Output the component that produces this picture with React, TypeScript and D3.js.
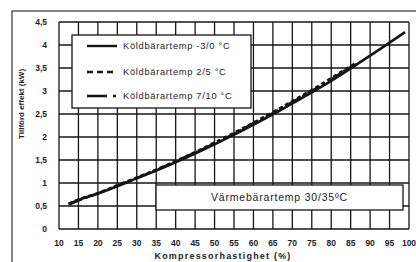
import * as d3 from 'd3';

const speedSolid = [12.5, 15, 20, 25, 30, 35, 40, 45, 50, 55, 60, 65, 70, 75, 80, 85, 90, 95, 99];
const powerSolid = [0.54, 0.63, 0.77, 0.93, 1.1, 1.27, 1.45, 1.64, 1.84, 2.05, 2.27, 2.49, 2.73, 2.97, 3.22, 3.49, 3.77, 4.05, 4.28];
const speedShort = [12.5, 15, 20, 25, 30, 35, 40, 45, 50, 55, 60, 65, 70, 75, 80, 85, 86.5];
const powerDashed = [0.55, 0.64, 0.78, 0.95, 1.12, 1.29, 1.48, 1.67, 1.88, 2.09, 2.31, 2.54, 2.78, 3.02, 3.28, 3.54, 3.61];
const powerDashDot = [0.53, 0.62, 0.77, 0.94, 1.11, 1.28, 1.47, 1.66, 1.86, 2.07, 2.3, 2.52, 2.76, 3.0, 3.25, 3.52, 3.58];

const seriesNames = ['Köldbärartemp -3/0 °C', 'Köldbärartemp 2/5 °C', 'Köldbärartemp 7/10 °C'];
const xTicks = d3.range(10, 101, 5);
const yTicks = d3.range(0, 4.51, 0.5);
const note = 'Värmebärartemp 30/35ºC';

const W = 416;
const H = 262;
const plot = { left: 59, right: 409, top: 22, bottom: 229 };
const INK = '#151515';
const TXT = '#1b1b2b';
const FONT = '"Liberation Sans", Arial, sans-serif';

export default function App() {
  const x = d3.scaleLinear().domain([10, 100]).range([plot.left, plot.right]);
  const y = d3.scaleLinear().domain([0, 4.5]).range([plot.bottom, plot.top]);
  const line = d3.line<[number, number]>()
    .x(d => x(d[0]))
    .y(d => y(d[1]))
    .curve(d3.curveMonotoneX);

  const series = [
    { pts: speedSolid.map((s, i) => [s, powerSolid[i]] as [number, number]), dash: undefined },
    { pts: speedShort.map((s, i) => [s, powerDashed[i]] as [number, number]), dash: '4 3' },
    { pts: speedShort.map((s, i) => [s, powerDashDot[i]] as [number, number]), dash: '14 4 2 4' },
  ];
  const legendDash = [undefined, '6 4', '20 6 3 6'];

  return (
    <div style={{ position: 'fixed', left: 0, top: 0 }}>
      <svg width={W} height={H} style={{ display: 'block', background: '#fff' }} fontFamily={FONT}>
        {/* outer frame */}
        <rect x={12} y={11} width={430} height={280} fill="none" stroke="#333" strokeWidth={1.2} />

        {/* grid */}
        {xTicks.map(t => (
          <line key={'gx' + t} x1={x(t)} x2={x(t)} y1={plot.top} y2={plot.bottom} stroke={INK} strokeWidth={1.3} />
        ))}
        {yTicks.map(t => (
          <line key={'gy' + t} x1={plot.left} x2={plot.right} y1={y(t)} y2={y(t)} stroke={INK} strokeWidth={1.3} />
        ))}

        {/* tick labels */}
        {yTicks.map(t => (
          <text key={'ty' + t} x={47} y={y(t)} dy="0.35em" textAnchor="end" fontSize={8.5} fontWeight="bold" fill={TXT}>
            {d3.format('~g')(t).replace('.', ',')}
          </text>
        ))}
        {xTicks.map(t => (
          <text key={'tx' + t} x={x(t)} y={243} dy="0.35em" textAnchor="middle" fontSize={8.5} fontWeight="bold" fill={TXT}>
            {t}
          </text>
        ))}

        {/* axis titles */}
        <text x={223} y={259} textAnchor="middle" fontSize={9} fontWeight="bold" letterSpacing={1.2} fill={TXT}>
          Kompressorhastighet  (%)
        </text>
        <text transform="translate(21,104) rotate(-90)" dy="0.35em" textAnchor="middle" fontSize={8} fontWeight="bold" fill={TXT}>
          Tillförd effekt (kW)
        </text>

        {/* curves */}
        {series.map((s, i) => (
          <path key={'s' + i} d={line(s.pts) ?? ''} fill="none" stroke={INK} strokeWidth={2.6} strokeDasharray={s.dash} />
        ))}

        {/* legend */}
        <rect x={72} y={35} width={179} height={73} fill="#fff" stroke={INK} strokeWidth={1.3} />
        {seriesNames.map((n, i) => {
          const ly = [46, 72, 96][i];
          return (
            <g key={'lg' + i}>
              <line x1={87} x2={117} y1={ly} y2={ly} stroke={INK} strokeWidth={2.4} strokeDasharray={legendDash[i]} />
              <text x={123} y={ly} dy="0.35em" fontSize={9.3} letterSpacing={0.7} fill={TXT}>{n}</text>
            </g>
          );
        })}

        {/* note box */}
        <rect x={156} y={185} width={247} height={25} fill="#fff" stroke={INK} strokeWidth={1.3} />
        <text x={211} y={197.5} dy="0.35em" fontSize={10.5} letterSpacing={0.8} fill={TXT}>{note}</text>
      </svg>
    </div>
  );
}
